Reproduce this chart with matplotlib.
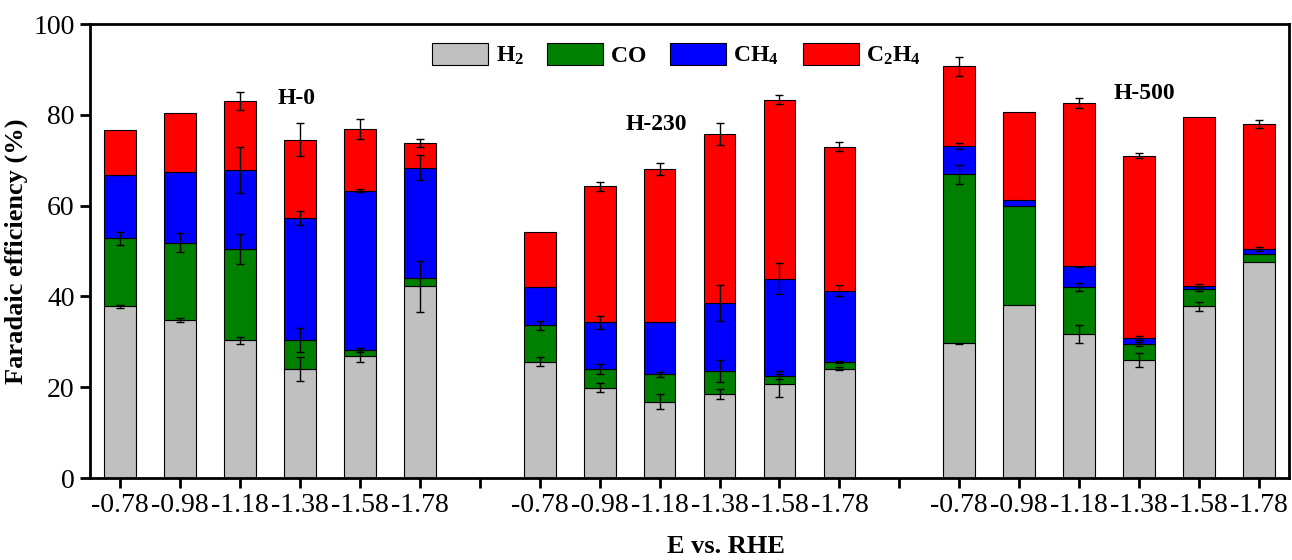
import numpy as np
import matplotlib

matplotlib.use("Agg")
import matplotlib.pyplot as plt

plt.rcParams["font.family"] = ["Liberation Serif", "DejaVu Serif"]
plt.rcParams["mathtext.fontset"] = "custom"
plt.rcParams["mathtext.rm"] = "Liberation Serif"
plt.rcParams["mathtext.bf"] = "Liberation Serif:bold"

groups = ["H-0", "H-230", "H-500"]
potentials = ["-0.78", "-0.98", "-1.18", "-1.38", "-1.58", "-1.78"]

# Faradaic efficiencies (%), 6 potentials per sample, H-0 | H-230 | H-500
h2 = [37.8, 34.8, 30.3, 24.0, 26.9, 42.2,
      25.6, 19.9, 16.8, 18.5, 20.7, 24.1,
      29.7, 38.1, 31.8, 26.0, 37.8, 47.5]
co = [15.0, 17.0, 20.1, 6.4, 1.3, 1.8,
      8.0, 4.2, 6.1, 5.0, 1.7, 1.4,
      37.2, 21.8, 10.2, 3.5, 3.8, 1.9]
ch4 = [13.9, 15.6, 17.5, 26.9, 35.1, 24.4,
       8.4, 10.2, 11.4, 15.1, 21.5, 15.8,
       6.3, 1.3, 4.6, 1.4, 0.8, 1.0]
c2h4 = [9.9, 13.0, 15.1, 17.2, 13.5, 5.4,
        12.2, 30.0, 33.8, 37.1, 39.4, 31.7,
        17.5, 19.5, 36.0, 40.1, 37.1, 27.6]

h2_err = [0.3, 0.4, 0.8, 2.6, 1.3, 5.7,
          1.0, 1.0, 1.6, 1.1, 2.9, 0.3,
          0.1, 0.0, 2.0, 1.6, 1.0, 0.0]
co_err = [1.4, 2.1, 3.3, 2.6, 0.5, 0.0,
          0.9, 1.1, 0.55, 2.4, 0.5, 0.2,
          2.1, 0.0, 0.9, 0.5, 0.4, 0.0]
ch4_err = [0.0, 0.0, 5.1, 1.5, 0.4, 2.8,
           0.0, 1.4, 0.0, 4.0, 3.4, 1.3,
           0.7, 0.0, 0.2, 0.4, 0.3, 0.4]
c2h4_err = [0.0, 0.0, 2.0, 3.6, 2.2, 0.9,
            0.0, 1.0, 1.3, 2.4, 1.0, 0.95,
            2.1, 0.0, 1.1, 0.6, 0.0, 0.95]

series = [
    (r"$\mathbf{H_2}$", h2, h2_err, "#C0C0C0"),
    (r"$\mathbf{CO}$", co, co_err, "#008000"),
    (r"$\mathbf{CH_4}$", ch4, ch4_err, "#0000FF"),
    (r"$\mathbf{C_2H_4}$", c2h4, c2h4_err, "#FF0000"),
]

n = len(potentials)
x = np.array([g * (n + 1) + i for g in range(len(groups)) for i in range(n)])

fig = plt.figure(figsize=(12.92, 5.6), dpi=100)
ax = fig.add_axes([0.0697, 0.1464, 0.928, 0.8106])

bottom = np.zeros(len(x))
for label, vals, err, color in series:
    vals = np.array(vals)
    err = np.array(err)
    ax.bar(x, vals, width=0.53, bottom=bottom, color=color,
           edgecolor="black", linewidth=0.8, label=label, zorder=2)
    top = bottom + vals
    m = err > 0
    ax.errorbar(x[m], top[m], yerr=err[m], fmt="none", ecolor="black",
                elinewidth=1.0, capsize=2.8, capthick=1.0, zorder=3)
    bottom = top

ticks = np.arange(len(groups) * (n + 1) - 1)
ax.set_xticks(ticks)
labels = []
for t in ticks:
    labels.append(potentials[t % (n + 1)] if t % (n + 1) < n else "")
ax.set_xticklabels(labels)
ax.set_xlim(-0.5, ticks[-1] + 0.5)
ax.set_ylim(0, 100)
ax.set_yticks(range(0, 101, 20))

ax.tick_params(axis="both", direction="out", length=7, width=2,
               labelsize=20, pad=4)
for s in ax.spines.values():
    s.set_linewidth(2)

ax.set_ylabel("Faradaic efficiency (%)", fontsize=19, fontweight="bold")
ax.set_xlabel("E vs. RHE", fontsize=19, fontweight="bold")
ax.xaxis.set_label_coords(0.53, -0.125)

for name, gx, gy in [("H-0", 2.95, 83.7), ("H-230", 8.94, 77.8),
                     ("H-500", 17.08, 84.7)]:
    ax.text(gx, gy, name, ha="center", va="center", fontsize=17,
            fontweight="bold")

ax.legend(loc="center", bbox_to_anchor=(0.489, 0.932), ncol=4,
          frameon=False, fontsize=17, handlelength=2.37, handleheight=1.1,
          handletextpad=0.3, columnspacing=1.0)

fig.savefig("out.png", dpi=100)
